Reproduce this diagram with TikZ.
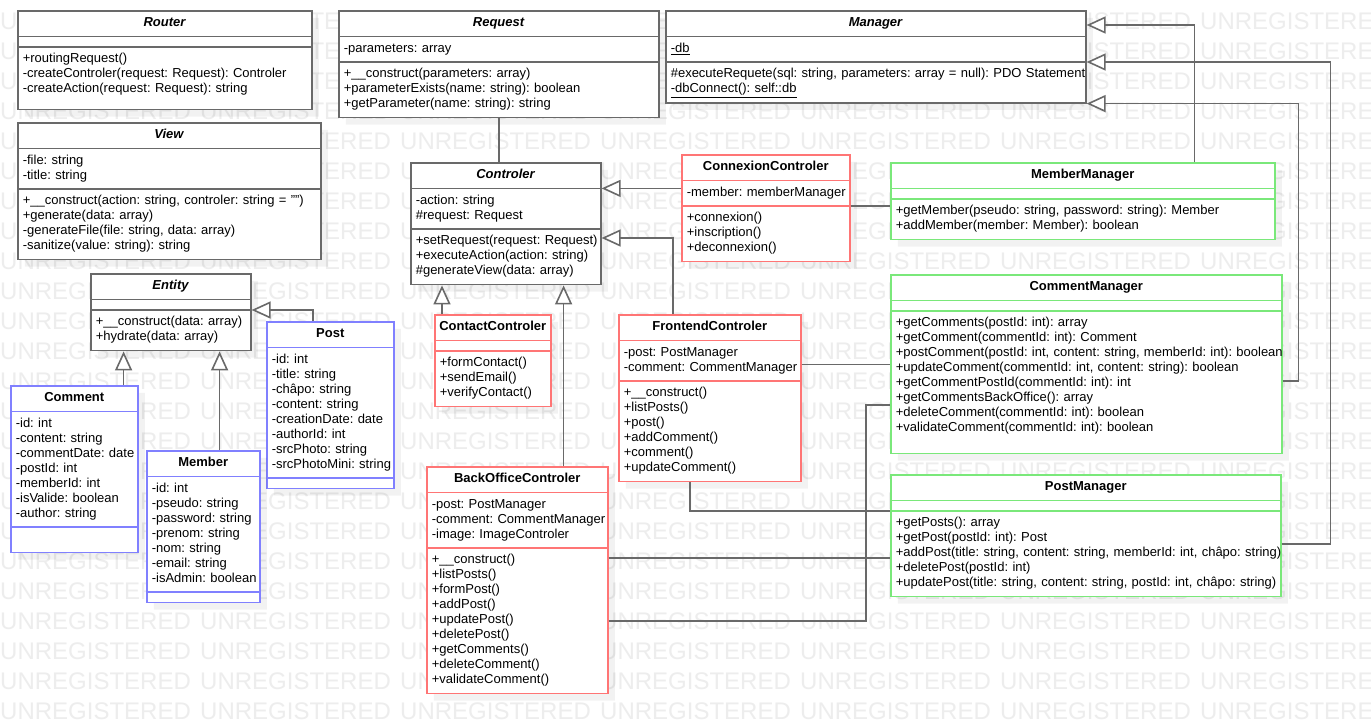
\documentclass[tikz,border=0pt]{standalone}
\usepackage{fontspec}
\setmainfont{Liberation Sans}
\usepackage{xcolor}
\usepackage{tikz}
\usetikzlibrary{calc,arrows.meta}
\usetikzlibrary{shapes.multipart,positioning,shadows}

\definecolor{traitgris}{RGB}{105,105,105}
\definecolor{bordrouge}{RGB}{255,117,117}
\definecolor{bordbleu}{RGB}{128,128,255}
\definecolor{bordvert}{RGB}{122,232,122}

\begin{document}
\begin{tikzpicture}[
        x=1pt, y=-1pt,
        umlclass/.style={
            rectangle split, rectangle split parts=3, draw=traitgris, line width=1.6pt,
            fill=white, align=left, anchor=north west,
            font=\fontsize{13}{15}\selectfont\frenchspacing, inner xsep=5pt, inner ysep=4.5pt,
            drop shadow={shadow xshift=7pt, shadow yshift=-7pt, fill=black, opacity=.05}
        },
        umlctrl/.style={umlclass, draw=bordrouge},
        umlentity/.style={umlclass, draw=bordbleu},
        umlmanager/.style={umlclass, draw=bordvert},
        lien/.style={draw=traitgris, line width=1.6pt},
        heritage/.style={lien, -{Triangle[open, fill=white, length=19pt, width=17pt]}},
        filigrane/.style={anchor=base west, inner sep=0pt, text=black!7, font=\fontsize{24}{24}\selectfont}
    ]

    \path[use as bounding box, fill=white] (0,0) rectangle (1371,726);

    % filigrane de fond
    \begin{scope}
    \clip (0,0) rectangle (1371,726);
    \foreach \r in {0,...,23}{
        \foreach \c in {0,...,6}{
            \node[filigrane] (wm-\r-\c) at (200*\c,29+30*\r) {UNREGISTERED};
        }
    }
    \end{scope}

    \node[umlclass, text width=284pt] (router) at (17,10) {
        \makebox[\hsize]{\strut\textbf{\textit{Router}}}
        \nodepart{second}
        \nodepart{third}
        \begin{tabular}[t]{@{}l@{}}
        +routingRequest()\\
        -createControler(request: Request): Controler\\
        -createAction(request: Request): string\\[7pt]
        \end{tabular}
    };

    \node[umlclass, text width=310pt] (request) at (338,10) {
        \makebox[\hsize]{\strut\textbf{\textit{Request}}}
        \nodepart{second}
        \begin{tabular}[t]{@{}l@{}}
        -parameters: array
        \end{tabular}
        \nodepart{third}
        \begin{tabular}[t]{@{}l@{}}
        +\_\_construct(parameters: array)\\
        +parameterExists(name: string): boolean\\
        +getParameter(name: string): string
        \end{tabular}
    };

    \node[umlclass, text width=410pt] (manager) at (665,10) {
        \makebox[\hsize]{\strut\textbf{\textit{Manager}}}
        \nodepart{second}
        \begin{tabular}[t]{@{}l@{}}
        \underline{-db}
        \end{tabular}
        \nodepart{third}
        \begin{tabular}[t]{@{}l@{}}
        \#executeRequete(sql: string, parameters: array = null): PDO Statement\\
        \underline{-dbConnect(): self::db}
        \end{tabular}
    };

    \node[umlclass, text width=293pt] (view) at (17,122) {
        \makebox[\hsize]{\strut\textbf{\textit{View}}}
        \nodepart{second}
        \begin{tabular}[t]{@{}l@{}}
        -file: string\\
        -title: string
        \end{tabular}
        \nodepart{third}
        \begin{tabular}[t]{@{}l@{}}
        +\_\_construct(action: string, controler: string = "")\\
        +generate(data: array)\\
        -generateFile(file: string, data: array)\\
        -sanitize(value: string): string
        \end{tabular}
    };

    \node[umlclass, text width=180pt] (controler) at (410,162) {
        \makebox[\hsize]{\strut\textbf{\textit{Controler}}}
        \nodepart{second}
        \begin{tabular}[t]{@{}l@{}}
        -action: string\\
        \#request: Request
        \end{tabular}
        \nodepart{third}
        \begin{tabular}[t]{@{}l@{}}
        +setRequest(request: Request)\\
        +executeAction(action: string)\\
        \#generateView(data: array)
        \end{tabular}
    };

    \node[umlctrl, text width=158pt] (connexion) at (681,154) {
        \makebox[\hsize]{\strut\textbf{ConnexionControler}}
        \nodepart{second}
        \begin{tabular}[t]{@{}l@{}}
        -member: memberManager
        \end{tabular}
        \nodepart{third}
        \begin{tabular}[t]{@{}l@{}}
        +connexion()\\
        +inscription()\\
        +deconnexion()
        \end{tabular}
    };

    \node[umlmanager, text width=374pt] (membermgr) at (890,162) {
        \makebox[\hsize]{\strut\textbf{MemberManager}}
        \nodepart{second}
        \nodepart{third}
        \begin{tabular}[t]{@{}l@{}}
        +getMember(pseudo: string, password: string): Member\\
        +addMember(member: Member): boolean
        \end{tabular}
    };

    \node[umlclass, text width=150pt] (entity) at (90,273) {
        \makebox[\hsize]{\strut\textbf{\textit{Entity}}}
        \nodepart{second}
        \nodepart{third}
        \begin{tabular}[t]{@{}l@{}}
        +\_\_construct(data: array)\\
        +hydrate(data: array)
        \end{tabular}
    };

    \node[umlentity, text width=117pt] (post) at (266,321) {
        \makebox[\hsize]{\strut\textbf{Post}}
        \nodepart{second}
        \begin{tabular}[t]{@{}l@{}}
        -id: int\\
        -title: string\\
        -châpo: string\\
        -content: string\\
        -creationDate: date\\
        -authorId: int\\
        -srcPhoto: string\\
        -srcPhotoMini: string
        \end{tabular}
        \nodepart{third}
    };

    \node[umlentity, text width=117pt] (comment) at (10,385) {
        \makebox[\hsize]{\strut\textbf{Comment}}
        \nodepart{second}
        \begin{tabular}[t]{@{}l@{}}
        -id: int\\
        -content: string\\
        -commentDate: date\\
        -postId: int\\
        -memberId: int\\
        -isValide: boolean\\
        -author: string
        \end{tabular}
        \nodepart{third}
        \strut
    };

    \node[umlentity, text width=103pt] (member) at (146,450) {
        \makebox[\hsize]{\strut\textbf{Member}}
        \nodepart{second}
        \begin{tabular}[t]{@{}l@{}}
        -id: int\\
        -pseudo: string\\
        -password: string\\
        -prenom: string\\
        -nom: string\\
        -email: string\\
        -isAdmin: boolean
        \end{tabular}
        \nodepart{third}
    };

    \node[umlctrl, text width=106pt] (contact) at (434,314) {
        \makebox[\hsize]{\strut\textbf{ContactControler}}
        \nodepart{second}
        \nodepart{third}
        \begin{tabular}[t]{@{}l@{}}
        +formContact()\\
        +sendEmail()\\
        +verifyContact()
        \end{tabular}
    };

    \node[umlctrl, text width=172pt] (frontend) at (618,314) {
        \makebox[\hsize]{\strut\textbf{FrontendControler}}
        \nodepart{second}
        \begin{tabular}[t]{@{}l@{}}
        -post: PostManager\\
        -comment: CommentManager
        \end{tabular}
        \nodepart{third}
        \begin{tabular}[t]{@{}l@{}}
        +\_\_construct()\\
        +listPosts()\\
        +post()\\
        +addComment()\\
        +comment()\\
        +updateComment()
        \end{tabular}
    };

    \node[umlctrl, text width=171pt] (backoffice) at (426,466) {
        \makebox[\hsize]{\strut\textbf{BackOfficeControler}}
        \nodepart{second}
        \begin{tabular}[t]{@{}l@{}}
        -post: PostManager\\
        -comment: CommentManager\\
        -image: ImageControler
        \end{tabular}
        \nodepart{third}
        \begin{tabular}[t]{@{}l@{}}
        +\_\_construct()\\
        +listPosts()\\
        +formPost()\\
        +addPost()\\
        +updatePost()\\
        +deletePost()\\
        +getComments()\\
        +deleteComment()\\
        +validateComment()
        \end{tabular}
    };

    \node[umlmanager, text width=381pt] (commentmgr) at (890,274) {
        \makebox[\hsize]{\strut\textbf{CommentManager}}
        \nodepart{second}
        \nodepart{third}
        \begin{tabular}[t]{@{}l@{}}
        +getComments(postId: int): array\\
        +getComment(commentId: int): Comment\\
        +postComment(postId: int, content: string, memberId: int): boolean\\
        +updateComment(commentId: int, content: string): boolean\\
        +getCommentPostId(commentId: int): int\\
        +getCommentsBackOffice(): array\\
        +deleteComment(commentId: int): boolean\\
        +validateComment(commentId: int): boolean\\[12pt]
        \end{tabular}
    };

    \node[umlmanager, text width=380pt] (postmgr) at (890,474) {
        \makebox[\hsize]{\strut\textbf{PostManager}}
        \nodepart{second}
        \nodepart{third}
        \begin{tabular}[t]{@{}l@{}}
        +getPosts(): array\\
        +getPost(postId: int): Post\\
        +addPost(title: string, content: string, memberId: int, châpo: string)\\
        +deletePost(postId: int)\\
        +updatePost(title: string, content: string, postId: int, châpo: string)
        \end{tabular}
    };

    % héritage des contrôleurs
    \draw[heritage] (connexion.west |- controler.text split east) -- (controler.text split east);
    \draw[heritage] ([xshift=55pt]frontend.north west) |- ($(controler.second split east)+(0,9)$);
    \draw[heritage] ([xshift=8pt]contact.north west) coordinate (h1) -- (h1 |- controler.south);
    \draw[heritage] ([xshift=-45pt]backoffice.north east) coordinate (h2) -- (h2 |- controler.south);

    % héritage des managers
    \draw[heritage] ([xshift=-81pt]membermgr.north east) |- ([yshift=-15pt]manager.north east);
    \draw[heritage] ([yshift=-33pt]postmgr.second split east) -| ([xshift=244pt]manager.second split east) -- (manager.second split east);
    \draw[heritage] ([yshift=-70pt]commentmgr.second split east) -| ([xshift=212pt]manager.south east) -- (manager.south east);

    % héritage des entités
    \draw[heritage] ([xshift=47pt]post.north west) |- (entity.second split east);
    \draw[heritage] ([xshift=-15pt]comment.north east) coordinate (h3) -- (h3 |- entity.south);
    \draw[heritage] ([xshift=-41pt]member.north east) coordinate (h4) -- (h4 |- entity.south);

    % associations
    \draw[lien] (request.south) -- (request.south |- controler.north);
    \draw[lien] (connexion.second split east) -- (membermgr.west |- connexion.second split east);
    \draw[lien] ([yshift=-24pt]frontend.text split east) coordinate (a1) -- (a1 -| commentmgr.west);
    \draw[lien] ([xshift=72pt]frontend.south west) |- (postmgr.second split west);
    \draw[lien] ([yshift=-10pt]backoffice.second split east) coordinate (a2) -- (a2 -| postmgr.west);
    \draw[lien] ([yshift=-73pt]backoffice.second split east) -| ([xshift=-24pt,yshift=-94pt]commentmgr.second split west) -- ([yshift=-94pt]commentmgr.second split west);

\end{tikzpicture}
\end{document}
